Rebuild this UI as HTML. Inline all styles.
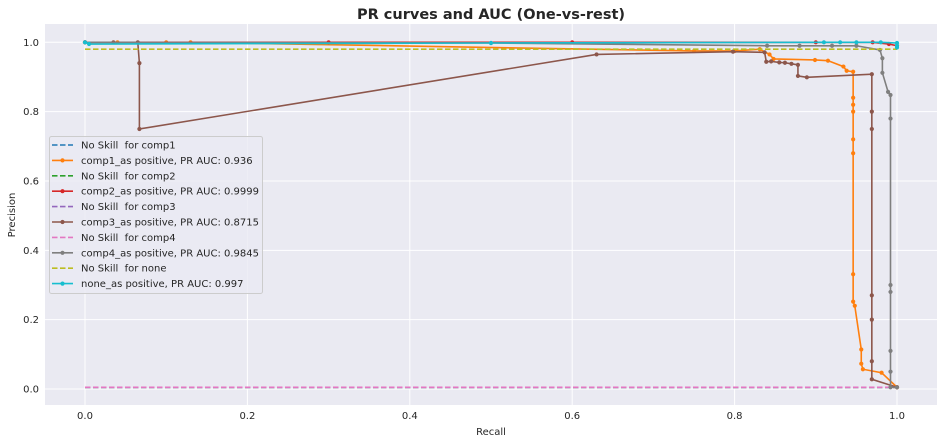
<!DOCTYPE html>
<html><head><meta charset="utf-8"><style>
body{margin:0;background:#fff;}
svg{display:block;font-family:"DejaVu Sans","Liberation Sans",sans-serif;}
text{white-space:pre;}
</style></head><body>
<svg id="c" width="944" height="443"></svg>
<script>
const xTicks=[0,0.2,0.4,0.6,0.8,1.0];
const yTicks=[0,0.2,0.4,0.6,0.8,1.0];
const xTickLabels=["0.0","0.2","0.4","0.6","0.8","1.0"];
const yTickLabels=["0.0","0.2","0.4","0.6","0.8","1.0"];
const noSkillRecall=[0,1];
const noSkillComp=[0.005,0.005];
const noSkillNone=[0.98,0.98];
const comp1R=[0,0.04,0.1,0.13,0.75,0.8,0.831,0.843,0.848,0.899,0.915,0.934,0.938,0.946,0.946,0.946,0.946,0.946,0.946,0.946,0.946,0.948,0.956,0.956,0.958,0.981,1.0];
const comp1P=[1,1,1,1,0.975,0.975,0.98,0.965,0.952,0.949,0.947,0.93,0.918,0.915,0.84,0.82,0.8,0.72,0.68,0.331,0.252,0.24,0.114,0.073,0.057,0.047,0.005];
const comp2R=[0,0.3,0.6,0.9,0.97,0.99,1.0];
const comp2P=[1,1,1,1,1,0.995,0.99];
const comp3R=[0,0.035,0.065,0.067,0.067,0.63,0.798,0.837,0.839,0.845,0.855,0.862,0.87,0.878,0.878,0.889,0.969,0.969,0.969,0.969,0.969,0.969,0.969,1.0];
const comp3P=[1,1,1,0.94,0.75,0.965,0.973,0.971,0.944,0.945,0.942,0.941,0.938,0.935,0.903,0.899,0.908,0.8,0.75,0.27,0.2,0.08,0.028,0.005];
const comp4R=[0,0.5,0.84,0.88,0.92,0.95,0.979,0.982,0.982,0.989,0.992,0.992,0.992,0.992,0.992,0.992,0.992,1.0];
const comp4P=[1,0.998,0.99,0.99,0.99,0.99,0.978,0.954,0.912,0.857,0.848,0.78,0.3,0.28,0.11,0.05,0.005,0.005];
const noneR=[0,0.005,0.5,0.91,0.93,0.95,0.98,1.0,1.0,1.0];
const noneP=[1,0.995,0.998,1,1,1,1,0.998,0.99,0.985];

const svg=document.getElementById('c');
const NS='http://www.w3.org/2000/svg';
const L=45,T=24,R=937,B=405;
const sx=v=>85+v*812;
const sy=v=>389-v*346.7;
function mk(tag,attrs,parent){const e=document.createElementNS(NS,tag);for(const k in attrs)e.setAttribute(k,attrs[k]);(parent||svg).appendChild(e);return e;}

const bg=mk('rect',{x:L,y:T,width:R-L,height:B-T,fill:'#eaeaf2'});


xTicks.forEach((v,i)=>{
  const g=mk('line',{x1:sx(v),x2:sx(v),y1:T,y2:B,stroke:'#fff','stroke-width':1});
  
  
  const t=mk('text',{x:sx(v),y:B+14,'font-size':10,fill:'#262626','text-anchor':'middle'});
  t.textContent=xTickLabels[i];
  
  
});
yTicks.forEach((v,i)=>{
  const g=mk('line',{x1:L,x2:R,y1:sy(v),y2:sy(v),stroke:'#fff','stroke-width':1});
  
  
  const t=mk('text',{x:L-6,y:sy(v)+3.5,'font-size':10,fill:'#262626','text-anchor':'end'});
  t.textContent=yTickLabels[i];
  
  
});

function series(rs,ps,color,dashed,markers,name){
  const g=mk('g',{});
  
  
  const pts=rs.map((r,i)=>sx(r)+','+sy(ps[i])).join(' ');
  mk('polyline',{points:pts,fill:'none',stroke:color,'stroke-width':1.6,'stroke-dasharray':dashed?'5.5,2.5':'none'},g);
  if(markers)rs.forEach((r,i)=>{
    const c=mk('circle',{cx:sx(r),cy:sy(ps[i]),r:2.1,fill:color},g);
    
    
  });
}
series(noSkillRecall,noSkillComp,'#1f77b4',true,false,'no-skill-comp1');
series(comp1R,comp1P,'#ff7f0e',false,true,'comp1-curve');
series(noSkillRecall,noSkillComp,'#2ca02c',true,false,'no-skill-comp2');
series(comp2R,comp2P,'#d62728',false,true,'comp2-curve');
series(noSkillRecall,noSkillComp,'#9467bd',true,false,'no-skill-comp3');
series(comp3R,comp3P,'#8c564b',false,true,'comp3-curve');
series(noSkillRecall,noSkillComp,'#e377c2',true,false,'no-skill-comp4');
series(comp4R,comp4P,'#7f7f7f',false,true,'comp4-curve');
series(noSkillRecall,noSkillNone,'#bcbd22',true,false,'no-skill-none');
series(noneR,noneP,'#17becf',false,true,'none-curve');

const title=mk('text',{x:491,y:19,'font-size':14.5,'font-weight':'bold',fill:'#262626','text-anchor':'middle'});
title.textContent='PR curves and AUC (One-vs-rest)';


const xl=mk('text',{x:491,y:435,'font-size':10,fill:'#262626','text-anchor':'middle'});
xl.textContent='Recall';


const yl=mk('text',{x:15,y:215,'font-size':10,fill:'#262626','text-anchor':'middle',transform:'rotate(-90 15 215)'});
yl.textContent='Precision';



const legendLabels=['No Skill  for comp1','comp1_as positive, PR AUC: 0.936','No Skill  for comp2','comp2_as positive, PR AUC: 0.9999','No Skill  for comp3','comp3_as positive, PR AUC: 0.8715','No Skill  for comp4','comp4_as positive, PR AUC: 0.9845','No Skill  for none','none_as positive, PR AUC: 0.997'];
const legendColors=['#1f77b4','#ff7f0e','#2ca02c','#d62728','#9467bd','#8c564b','#e377c2','#7f7f7f','#bcbd22','#17becf'];
const lg=mk('g',{});


mk('rect',{x:49.5,y:136.5,width:213,height:157,rx:2,fill:'#eaeaf2','fill-opacity':0.8,stroke:'#cccccc'},lg);
legendLabels.forEach((lab,i)=>{
  const y=145+i*15.4;
  const e=mk('g',{},lg);
  
  
  const dashed=i%2===0;
  mk('line',{x1:52,x2:73,y1:y,y2:y,stroke:legendColors[i],'stroke-width':1.6,'stroke-dasharray':dashed?'5.5,2.5':'none'},e);
  if(!dashed)mk('circle',{cx:62.5,cy:y,r:2.1,fill:legendColors[i]},e);
  const t=mk('text',{x:81,y:y+3.5,'font-size':10,fill:'#262626'},e);
  t.textContent=lab;
});
</script>
</body></html>
